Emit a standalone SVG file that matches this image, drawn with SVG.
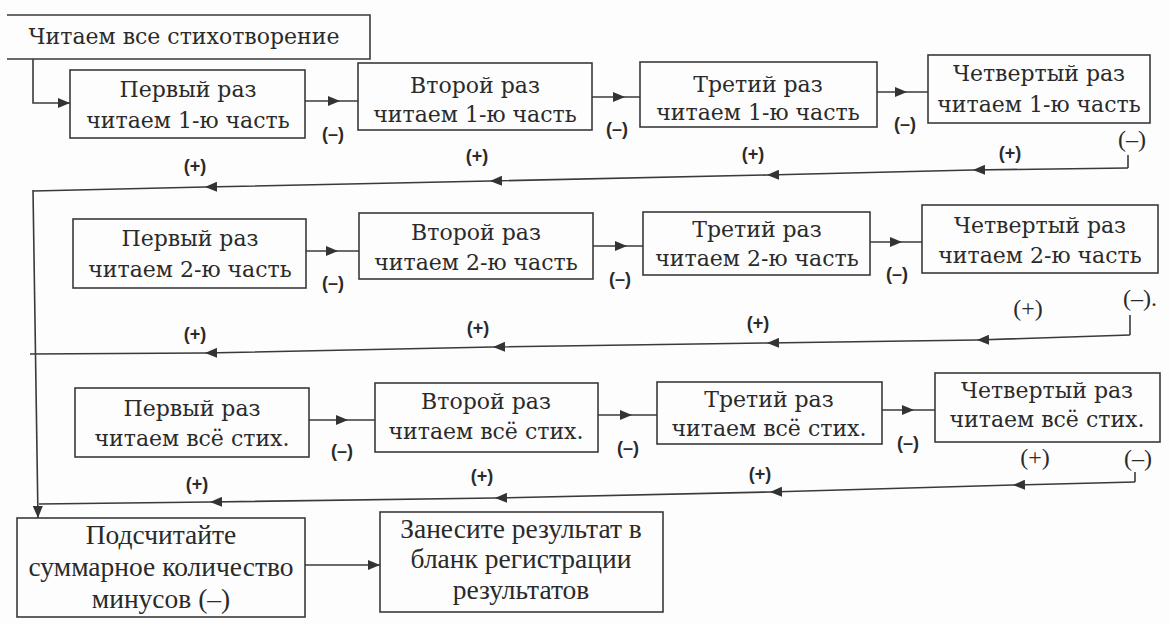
<svg xmlns="http://www.w3.org/2000/svg" width="1170" height="625" viewBox="0 0 1170 625">
<defs>
<marker id="ah" viewBox="0 0 12 10" refX="12" refY="5" markerWidth="12" markerHeight="10" markerUnits="userSpaceOnUse" orient="auto">
<path d="M0,0 L12,5 L0,10 z" fill="#333"/>
</marker>
<style>
.box{fill:none;stroke:#3a3a3a;stroke-width:1.6}
.t{font-family:"DejaVu Serif","Liberation Serif",serif;font-size:22px;fill:#2a2a2a;text-anchor:middle}
.tb{font-family:"Liberation Serif","Times New Roman",serif;font-size:27.5px;fill:#2a2a2a;text-anchor:middle}
.m{font-family:"Liberation Sans",Arial,sans-serif;font-size:18px;font-weight:bold;fill:#2a2a2a;text-anchor:middle}
.ms{font-family:"Liberation Serif","Times New Roman",serif;font-size:24px;fill:#2a2a2a;text-anchor:middle}
.c{fill:none;stroke:#3a3a3a;stroke-width:1.6}
.cm{fill:none;stroke:#3a3a3a;stroke-width:1.6;marker-mid:url(#ah)}
.ce{fill:none;stroke:#3a3a3a;stroke-width:1.6;marker-end:url(#ah)}
</style>
</defs>
<rect width="1170" height="625" fill="#fdfdfd"/>

<g id="start">
<path class="box" d="M7,15 H370 V59 H7"/>
<text class="t" x="184" y="44">Читаем все стихотворение</text>
</g>

<g id="r1n1"><rect class="box" x="70" y="70" width="235" height="68"/><text class="t" x="188" y="97">Первый раз</text><text class="t" x="188" y="128">читаем 1-ю часть</text></g>
<g id="r1n2"><rect class="box" x="358" y="63" width="234" height="67"/><text class="t" x="475" y="93">Второй раз</text><text class="t" x="475" y="122">читаем 1-ю часть</text></g>
<g id="r1n3"><rect class="box" x="640" y="62" width="237" height="65"/><text class="t" x="758" y="92">Третий раз</text><text class="t" x="758" y="120">читаем 1-ю часть</text></g>
<g id="r1n4"><rect class="box" x="928" y="55" width="222" height="68"/><text class="t" x="1039" y="81">Четвертый  раз</text><text class="t" x="1039" y="112">читаем 1-ю часть</text></g>

<g id="r2n1"><rect class="box" x="73" y="219" width="233" height="69"/><text class="t" x="190" y="246">Первый раз</text><text class="t" x="190" y="277">читаем 2-ю часть</text></g>
<g id="r2n2"><rect class="box" x="359" y="213" width="234" height="66"/><text class="t" x="476" y="240">Второй раз</text><text class="t" x="476" y="270">читаем 2-ю часть</text></g>
<g id="r2n3"><rect class="box" x="643" y="212" width="227" height="63"/><text class="t" x="757" y="237">Третий раз</text><text class="t" x="757" y="266">читаем 2-ю часть</text></g>
<g id="r2n4"><rect class="box" x="922" y="205" width="236" height="68"/><text class="t" x="1040" y="233">Четвертый  раз</text><text class="t" x="1040" y="263">читаем 2-ю часть</text></g>

<g id="r3n1"><rect class="box" x="75" y="388" width="234" height="69"/><text class="t" x="192" y="416">Первый раз</text><text class="t" x="192" y="446">читаем всё стих.</text></g>
<g id="r3n2"><rect class="box" x="375" y="383" width="223" height="69"/><text class="t" x="486" y="409">Второй раз</text><text class="t" x="486" y="439">читаем всё стих.</text></g>
<g id="r3n3"><rect class="box" x="657" y="382" width="225" height="62"/><text class="t" x="769" y="407">Третий раз</text><text class="t" x="769" y="436">читаем всё стих.</text></g>
<g id="r3n4"><rect class="box" x="935" y="373" width="225" height="69"/><text class="t" x="1047" y="398">Четвертый  раз</text><text class="t" x="1047" y="427">читаем всё стих.</text></g>

<g id="count"><rect class="box" x="17" y="518" width="288" height="99"/><text class="tb" x="161" y="544">Подсчитайте</text><text class="tb" x="161" y="576">суммарное количество</text><text class="tb" x="161" y="608">минусов (–)</text></g>
<g id="record"><rect class="box" x="380" y="512" width="283" height="100"/><text class="tb" x="521" y="538">Занесите результат в</text><text class="tb" x="521" y="568">бланк регистрации</text><text class="tb" x="521" y="599">результатов</text></g>

<g id="connectors">
<polyline class="ce" points="33,59 33,103 70,103"/>
<polyline class="cm" points="305,101 340,101 358,101"/>
<polyline class="cm" points="592,97 625,97 640,97"/>
<polyline class="cm" points="877,92 907,92 928,92"/>
<line class="c" x1="1128" y1="155" x2="1128" y2="168"/>
<polyline class="cm" points="1128,168 973,170 767,175 490,181 205,187 33,191"/>

<polyline class="cm" points="306,251 338,251 359,251"/>
<polyline class="cm" points="593,246 627,246 643,246"/>
<polyline class="cm" points="870,242 902,242 922,242"/>
<line class="c" x1="1130" y1="315" x2="1130" y2="335"/>
<polyline class="cm" points="1130,335 977,340 767,343 493,347 205,353 30,354"/>

<polyline class="cm" points="309,420 348,420 375,420"/>
<polyline class="cm" points="598,415 632,415 657,415"/>
<polyline class="cm" points="882,410 914,410 935,410"/>
<line class="c" x1="1135" y1="472" x2="1135" y2="482"/>
<polyline class="cm" points="1135,482 1013,485 770,492 495,498 210,502 39,504"/>

<line class="ce" x1="33" y1="190" x2="38" y2="518"/>
<line class="ce" x1="305" y1="565" x2="380" y2="565"/>

<text class="m" x="333" y="140">(–)</text>
<text class="m" x="617" y="135">(–)</text>
<text class="m" x="905" y="130">(–)</text>
<text class="ms" x="1132" y="147">(–)</text>
<text class="m" x="1010" y="159">(+)</text>
<text class="m" x="753" y="160">(+)</text>
<text class="m" x="477" y="162">(+)</text>
<text class="m" x="195" y="172">(+)</text>

<text class="m" x="333" y="289">(–)</text>
<text class="m" x="620" y="285">(–)</text>
<text class="m" x="897" y="280">(–)</text>
<text class="ms" x="1140" y="306">(–).</text>
<text class="ms" x="1028" y="316">(+)</text>
<text class="m" x="758" y="329">(+)</text>
<text class="m" x="478" y="334">(+)</text>
<text class="m" x="195" y="340">(+)</text>

<text class="m" x="342" y="457">(–)</text>
<text class="m" x="628" y="454">(–)</text>
<text class="m" x="908" y="449">(–)</text>
<text class="ms" x="1035" y="465">(+)</text>
<text class="ms" x="1138" y="466">(–)</text>
<text class="m" x="760" y="480">(+)</text>
<text class="m" x="482" y="482">(+)</text>
<text class="m" x="197" y="490">(+)</text>
</g>
</svg>
